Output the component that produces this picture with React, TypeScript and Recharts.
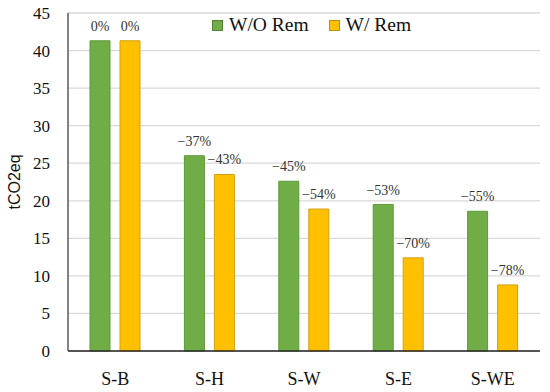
import { BarChart, Bar, XAxis, YAxis, CartesianGrid, LabelList } from 'recharts'

const scenarios = ['S-B', 'S-H', 'S-W', 'S-E', 'S-WE']
const withoutRem = [41.3, 26.0, 22.6, 19.5, 18.6]
const withRem = [41.3, 23.5, 18.9, 12.4, 8.8]
const withoutRemPct = ['0%', '−37%', '−45%', '−53%', '−55%']
const withRemPct = ['0%', '−43%', '−54%', '−70%', '−78%']
const yTicks = [0, 5, 10, 15, 20, 25, 30, 35, 40, 45]

const GREEN = '#70AD47'
const YELLOW = '#FFC000'
const SERIF = '"Liberation Serif", serif'

const data = scenarios.map((s, i) => ({
  name: s,
  wo: withoutRem[i],
  w: withRem[i],
  woPct: withoutRemPct[i],
  wPct: withRemPct[i],
}))

function YLabel({ viewBox }: any) {
  const cy = viewBox.y + viewBox.height / 2
  return (
    <text
      x={14}
      y={cy}
      transform={`rotate(-90, 14, ${cy})`}
      textAnchor="middle"
      dominantBaseline="central"
      fontFamily='"Liberation Sans", sans-serif'
      fontSize={16}
      fill="#111"
    >
      tCO2eq
    </text>
  )
}

function LegendBox() {
  const item = (color: string, border: string, text: string) => (
    <div style={{ display: 'flex', alignItems: 'center', marginRight: 20 }}>
      <div
        style={{
          width: 9,
          height: 9,
          background: color,
          border: `1px solid ${border}`,
          marginRight: 6,
        }}
      />
      <span>{text}</span>
    </div>
  )
  return (
    <div
      style={{
        position: 'absolute',
        left: 212,
        top: 14,
        display: 'flex',
        fontFamily: SERIF,
        fontSize: 19.5,
        color: '#111',
        lineHeight: '22px',
      }}
    >
      {item(GREEN, '#548235', 'W/O Rem')}
      {item(YELLOW, '#BF9000', 'W/ Rem')}
    </div>
  )
}

export default function App() {
  return (
    <div style={{ position: 'relative', width: 550, height: 392, background: '#fff' }}>
      <style>{`body{margin:0}`}</style>
      <BarChart
        width={550}
        height={392}
        data={data}
        margin={{ top: 13, right: 10, left: 0, bottom: 0 }}
        barCategoryGap={22}
        barGap={10}
      >
        <CartesianGrid vertical={false} stroke="#d9d9d9" strokeWidth={1.3} />
        <XAxis
          dataKey="name"
          height={41}
          tickLine={false}
          tickMargin={15}
          axisLine={{ stroke: '#262626', strokeWidth: 1.5 }}
          tick={{ fontFamily: SERIF, fontSize: 18, fill: '#111' }}
        />
        <XAxis
          xAxisId="top"
          dataKey="name"
          orientation="top"
          height={0}
          tick={false}
          tickLine={false}
          axisLine={{ stroke: '#404040', strokeWidth: 1.3 }}
        />
        <YAxis
          width={68}
          domain={[0, 45]}
          ticks={yTicks}
          interval={0}
          tickLine={false}
          tickMargin={12}
          axisLine={{ stroke: '#404040', strokeWidth: 1.3 }}
          tick={{ fontFamily: SERIF, fontSize: 17, fill: '#111' }}
          label={<YLabel />}
        />
        <YAxis
          yAxisId="right"
          orientation="right"
          width={0}
          domain={[0, 45]}
          tick={false}
          tickLine={false}
          axisLine={{ stroke: '#404040', strokeWidth: 1.3 }}
        />
        <Bar dataKey="wo" fill={GREEN} stroke="#5E9A3A" strokeWidth={1} isAnimationActive={false}>
          <LabelList
            dataKey="woPct"
            position="top"
            offset={10}
            fontFamily={SERIF}
            fontSize={14}
            fill="#333"
          />
        </Bar>
        <Bar dataKey="w" fill={YELLOW} stroke="#D4A010" strokeWidth={1} isAnimationActive={false}>
          <LabelList
            dataKey="wPct"
            position="top"
            offset={10}
            fontFamily={SERIF}
            fontSize={14}
            fill="#333"
          />
        </Bar>
      </BarChart>
      <LegendBox />
    </div>
  )
}
